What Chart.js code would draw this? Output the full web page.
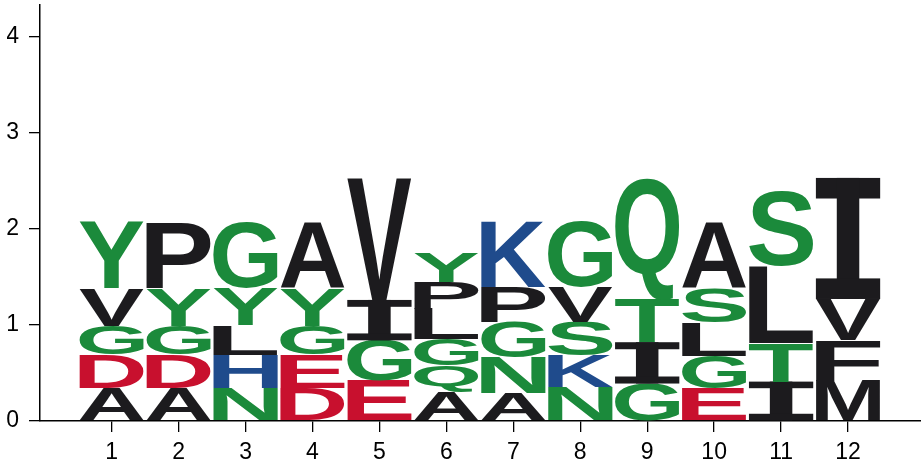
<!DOCTYPE html>
<html>
<head>
<meta charset="utf-8">
<script src="https://cdn.jsdelivr.net/npm/chart.js@4/dist/chart.umd.min.js"></script>
<style>
  html, body { margin: 0; padding: 0; background: #fff; }
  #logo { display: block; }
</style>
</head>
<body>
<canvas id="logo" width="921" height="472"></canvas>
<script>
// sequence logo, 12 positions, letters stacked small -> large
const positions = [1, 2, 3, 4, 5, 6, 7, 8, 9, 10, 11, 12];
const yTicks = [0, 1, 2, 3, 4];

const letters = [
  ['A', 'D', 'G', 'V', 'Y'],
  ['A', 'D', 'G', 'Y', 'P'],
  ['N', 'H', 'L', 'Y', 'G'],
  ['D', 'E', 'G', 'Y', 'A'],
  ['E', 'G', 'I', 'V'],
  ['A', 'Q', 'G', 'L', 'P', 'Y'],
  ['A', 'N', 'G', 'P', 'K'],
  ['N', 'K', 'S', 'V', 'G'],
  ['G', 'I', 'T', 'Q'],
  ['E', 'G', 'L', 'S', 'A'],
  ['I', 'T', 'L', 'S'],
  ['M', 'F', 'V', 'I']
];

const heights = [
  [0.34, 0.35, 0.30, 0.39, 0.69],
  [0.34, 0.35, 0.30, 0.39, 0.69],
  [0.34, 0.35, 0.31, 0.38, 0.69],
  [0.34, 0.35, 0.30, 0.39, 0.69],
  [0.42, 0.42, 0.42, 1.27],
  [0.30, 0.28, 0.27, 0.32, 0.28, 0.30],
  [0.29, 0.375, 0.365, 0.365, 0.68],
  [0.35, 0.33, 0.35, 0.365, 0.69],
  [0.39, 0.43, 0.45, 1.27],
  [0.34, 0.34, 0.35, 0.35, 0.69],
  [0.41, 0.40, 0.80, 0.78],
  [0.42, 0.42, 0.43, 1.26]
];

// residue colours
const GREEN = '#1b8a3b', RED = '#c8102e', BLUE = '#1f4b8c', BLACK = '#1c1b1e';
const colorOf = ch => {
  if ('GSTYCQN'.includes(ch)) return GREEN;
  if ('KRH'.includes(ch)) return BLUE;
  if ('DE'.includes(ch)) return RED;
  return BLACK;
};

const FONT = { family: '"Liberation Sans", Arial, sans-serif', size: 23 };

// one dataset per stack level
const maxLevels = Math.max(...heights.map(h => h.length));
const datasets = [];
for (let k = 0; k < maxLevels; k++) {
  const data = [];
  positions.forEach((p, i) => {
    if (heights[i][k] !== undefined) data.push({ x: p, y: heights[i][k], letter: letters[i][k] });
  });
  datasets.push({
    data,
    backgroundColor: 'rgba(0,0,0,0)',
    borderWidth: 0,
    categoryPercentage: 1,
    barPercentage: 0.96
  });
}

// stretch a glyph to fill the bar rectangle
function drawLetter(ctx, ch, color, left, top, w, h) {
  if (w <= 0 || h <= 0) return;
  ctx.save();
  ctx.fillStyle = color;
  if (ch === 'I') {
    // serif I like the original logo
    const bar = h * 0.17, stem = w * 0.35;
    ctx.fillRect(left, top, w, bar);
    ctx.fillRect(left + (w - stem) / 2, top, stem, h);
    ctx.fillRect(left, top + h - bar, w, bar);
    ctx.restore();
    return;
  }
  ctx.font = 'bold 200px "Liberation Sans", Arial, sans-serif';
  ctx.textAlign = 'left';
  ctx.textBaseline = 'alphabetic';
  const m = ctx.measureText(ch);
  const gw = m.actualBoundingBoxLeft + m.actualBoundingBoxRight;
  const gh = m.actualBoundingBoxAscent + m.actualBoundingBoxDescent;
  ctx.translate(left, top);
  ctx.scale(w / gw, h / gh);
  ctx.fillText(ch, m.actualBoundingBoxLeft, m.actualBoundingBoxAscent);
  ctx.restore();
}

const letterPlugin = {
  id: 'letters',
  afterDatasetsDraw(chart) {
    const ctx = chart.ctx;
    chart.data.datasets.forEach((ds, di) => {
      const meta = chart.getDatasetMeta(di);
      meta.data.forEach((bar, j) => {
        const { x, y, base, width } = bar.getProps(['x', 'y', 'base', 'width'], true);
        const ch = ds.data[j].letter;
        drawLetter(ctx, ch, colorOf(ch), x - width / 2, y, width, base - y);
      });
    });
  }
};

const axisGrid = { display: true, drawOnChartArea: false, drawTicks: true, tickLength: 11, color: '#000', lineWidth: 1.3, offset: false };
const axisBorder = { display: true, color: '#000', width: 1.5 };

new Chart(document.getElementById('logo'), {
  type: 'bar',
  data: { datasets },
  options: {
    responsive: false,
    animation: false,
    devicePixelRatio: 1,
    layout: { padding: { left: 7, top: 5, right: 0, bottom: 9 } },
    plugins: { legend: { display: false }, tooltip: { enabled: false } },
    scales: {
      x: {
        type: 'linear', min: -0.07, max: 13.09, stacked: true, offset: false,
        afterBuildTicks: s => { s.ticks = positions.map(v => ({ value: v })); },
        afterFit: s => { s.height = 42; s.paddingLeft = 0; s.paddingRight = 0; },
        ticks: { autoSkip: false, maxRotation: 0, color: '#000', font: FONT, padding: 7 },
        grid: axisGrid, border: axisBorder
      },
      y: {
        min: 0, max: 4.33, stacked: true,
        afterBuildTicks: s => { s.ticks = yTicks.map(v => ({ value: v })); },
        afterFit: s => { s.width = 33; s.paddingTop = 0; s.paddingBottom = 0; },
        ticks: { color: '#000', font: FONT, padding: 10 },
        grid: axisGrid, border: axisBorder
      }
    }
  },
  plugins: [letterPlugin]
});
</script>
</body>
</html>
